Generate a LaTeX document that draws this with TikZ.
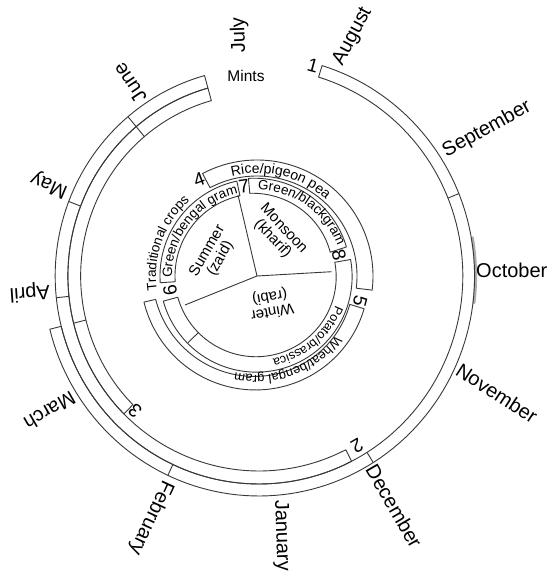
\documentclass[tikz,border=0pt]{standalone}
\usepackage{fontspec}
\setmainfont{Liberation Sans}
\usetikzlibrary{decorations.text}
\newcommand{\fsz}[1]{\fontsize{#1pt}{#1pt}\selectfont}
% spiral band: cx cy t1 t2 rin1 rin2 rout1 rout2 (clock angles)
\newcommand{\spband}[8]{%
  \draw[ln] plot[domain=#3:#4,samples=120] ({#1+(#7+(#8-#7)*(\x-#3)/(#4-#3))*sin(\x)},{#2-(#7+(#8-#7)*(\x-#3)/(#4-#3))*cos(\x)})
  -- plot[domain=#4:#3,samples=120] ({#1+(#5+(#6-#5)*(\x-#3)/(#4-#3))*sin(\x)},{#2-(#5+(#6-#5)*(\x-#3)/(#4-#3))*cos(\x)}) -- cycle;}
\newcommand{\rtick}[5]{\draw[ln] ({#1+#4*sin(#3)},{#2-#4*cos(#3)}) -- ({#1+#5*sin(#3)},{#2-#5*cos(#3)});}
\newcommand{\arctext}[7]{%
  \path[decorate,decoration={text along path,text align=center,text={|\fsz{#6}|#7}}] plot[domain=#3:#4,samples=150] ({#1+#5*sin(\x)},{#2-#5*cos(\x)});}
\begin{document}
\begin{tikzpicture}[x=1pt,y=-1pt,
  ln/.style={draw=black!78,line width=0.9pt,line join=round},
  smear/.style={draw=black!40,line width=3pt,line cap=round,opacity=0.8},
  month/.style={font=\fsz{20},inner sep=0pt,anchor=west},
  num/.style={font=\fsz{19},inner sep=0pt},
  lbl/.style={font=\fsz{15},inner sep=0pt,align=center}]
\useasboundingbox (0,0) rectangle (549,575);
\fill[white] (0,0) rectangle (549,575);
% ---------- outer bands (centre 259,276, slightly narrower than tall)
\begin{scope}[shift={(259,276)},xscale=0.98]
\draw[smear] plot[domain=80:97,samples=30] ({221*sin(\x)},{-221*cos(\x)});
\spband{0}{0}{17}{256}{208}{208}{220}{220}
\rtick{0}{0}{68}{208}{220}
\rtick{0}{0}{148}{208}{220}
\rtick{0}{0}{205}{208}{220}
\spband{0}{0}{153}{344.5}{195}{195}{208}{208}
\rtick{0}{0}{264}{195}{208}
\rtick{0}{0}{291}{195}{208}
\rtick{0}{0}{320}{195}{208}
\spband{0}{0}{225}{344.5}{182}{182}{195}{195}
\rtick{0}{0}{256}{182}{195}
\rtick{0}{0}{320}{182}{195}
\end{scope}
% ---------- inner bands (centre 257,276)
\spband{257}{276}{332}{457}{100}{100}{116}{116}
\spband{257}{276}{107}{257}{97}{104}{112}{116}
\spband{257}{276}{80}{255}{79}{82}{95}{97}
\rtick{257}{276}{226}{81}{96}
\spband{257}{276}{266}{348}{82}{82}{97}{97}
\spband{257}{276}{355}{432}{83}{77}{98}{94}
% pie
\coordinate (pc) at (257,276);
\coordinate (pa) at (238,195);
\coordinate (pb) at (331.7,271.7);
\coordinate (pd) at (185,305);
\draw[ln] (pc) -- (pa);
\draw[ln] (pc) -- (pb);
\draw[ln] (pc) -- (pd);
% curved labels
\arctext{257}{276}{334}{414}{103}{14}{Rice/pigeon pea}
\arctext{257}{276}{355}{435}{86}{13.5}{Green/blackgram}
\arctext{257}{276}{263}{353}{85}{13.5}{Green/bengal gram}
\arctext{257}{276}{255}{325}{101}{13.5}{Traditional crops}
\arctext{257}{276}{100}{180}{84}{12.5}{Potato/brassica}
\arctext{257}{276}{115}{205}{99}{13}{Wheat/bengal gram}
% pie labels
\node[lbl,rotate=60] (summer) at (214,255) {Summer\\(zaid)};
\node[lbl,rotate=-47] (monsoon) at (278,234) {Monsoon\\(kharif)};
\node[lbl,rotate=190] (winter) at (271,304) {Winter\\(rabi)};
\node[font=\fsz{15.5},inner sep=0pt] (mints) at (246,76) {Mints};
% numbers
\node[num,rotate=-15] (n1) at (313,66) {1};
\node[num,rotate=-150] (n2) at (357,446) {2};
\node[num,rotate=138] (n3) at (135,411) {3};
\node[num,rotate=20] (n4) at (199,180) {4};
\node[num,rotate=-104] (n5) at (360,301) {5};
\node[num,rotate=99] (n6) at (170,290) {6};
\node[num,rotate=8] (n7) at (244,186) {7};
\node[num,rotate=-76] (n8) at (339,255) {8};
% months
\node[month,rotate=92] (jul) at (240,53) {July};
\node[month,rotate=62] (aug) at (338,64) {August};
\node[month,rotate=29] (sep) at (444,153) {September};
\node[month,rotate=0] (oct) at (476,270) {October};
\node[month,rotate=-33] (nov) at (458,368) {November};
\node[month,rotate=-60] (dec) at (371,466) {December};
\node[month,rotate=-88] (jan) at (280,500) {January};
\node[month,rotate=-115] (feb) at (168,481) {February};
\node[month,rotate=210] (mar) at (74,397) {March};
\node[month,rotate=184] (apr) at (50,291) {April};
\node[month,rotate=157] (may) at (67,192) {May};
\node[month,rotate=124] (jun) at (142,101) {June};
\end{tikzpicture}
\end{document}
